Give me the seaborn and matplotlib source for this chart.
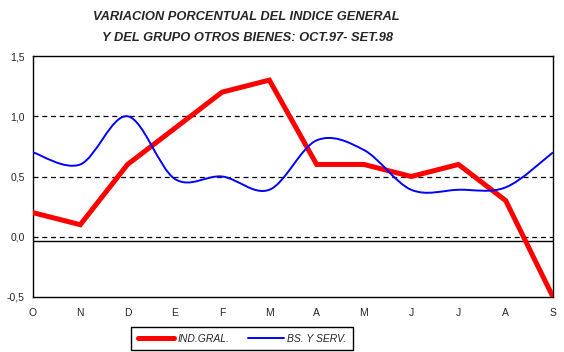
import numpy as np
import pandas as pd
import matplotlib
matplotlib.use("Agg")
import matplotlib.pyplot as plt
from matplotlib.path import Path
from matplotlib.patches import PathPatch
from matplotlib.lines import Line2D
import seaborn as sns

meses = ["O", "N", "D", "E", "F", "M", "A", "M", "J", "J", "A", "S"]
ind_gral = [0.2, 0.1, 0.6, 0.9, 1.2, 1.3, 0.6, 0.6, 0.5, 0.6, 0.3, -0.5]
bs_serv = [0.7, 0.6, 1.0, 0.48, 0.5, 0.39, 0.8, 0.72, 0.39, 0.39, 0.41, 0.7]
y_ticks = [-0.5, 0.0, 0.5, 1.0, 1.5]

sns.set_style("white")
plt.rcParams["font.family"] = ["Liberation Sans", "DejaVu Sans"]

df = pd.DataFrame({"x": np.arange(len(meses)), "ind": ind_gral, "bs": bs_serv})

fig = plt.figure(figsize=(5.64, 3.52), dpi=100)
ax = fig.add_axes([33 / 564, 1 - 297 / 352, 520 / 564, 241 / 352])

# dashed grid lines
for v in [0.0, 0.5, 1.0]:
    ax.axhline(v, color="black", lw=0.9, ls=(0, (4, 3)), zorder=1)
# solid axis line that crosses slightly below zero
ax.axhline(-0.035, color="black", lw=1.0, zorder=1)

sns.lineplot(data=df, x="x", y="ind", ax=ax, color="#ff0000", lw=3.6,
             solid_joinstyle="miter", zorder=3)


# smoothed curve (Excel-like) using bezier segments
def smooth_path(xs, ys):
    pts = np.column_stack([xs, ys]).astype(float)
    n = len(pts)
    verts = [pts[0]]
    codes = [Path.MOVETO]
    for i in range(n - 1):
        p0 = pts[max(i - 1, 0)]
        p1 = pts[i]
        p2 = pts[i + 1]
        p3 = pts[min(i + 2, n - 1)]
        c1 = p1 + (p2 - p0) / 6
        c2 = p2 - (p3 - p1) / 6
        verts += [c1, c2, p2]
        codes += [Path.CURVE4] * 3
    return Path(verts, codes)


ax.add_patch(PathPatch(smooth_path(df["x"], df["bs"]), fill=False,
                       edgecolor="#0000ff", lw=1.4, zorder=4))

ax.set_xlim(0, len(meses) - 1)
ax.set_ylim(-0.5, 1.5)
ax.set_xticks(df["x"])
ax.set_xticklabels(meses)
ax.set_yticks(y_ticks)
ax.set_yticklabels([f"{v:.1f}".replace(".", ",") for v in y_ticks])
ax.set_xlabel("")
ax.set_ylabel("")
ax.tick_params(axis="x", direction="inout", length=6, width=1, labelsize=7.5, pad=5)
ax.tick_params(axis="y", direction="out", length=4, width=1, labelsize=7.5, pad=2)
for s in ax.spines.values():
    s.set_color("black")
    s.set_linewidth(1.0)

fig.text(246 / 564, 1 - 17 / 352, "VARIACION PORCENTUAL DEL INDICE GENERAL",
         ha="center", va="center", fontsize=9.3, fontweight="bold", style="italic")
fig.text(248 / 564, 1 - 38 / 352, "Y DEL GRUPO OTROS BIENES: OCT.97- SET.98",
         ha="center", va="center", fontsize=9.3, fontweight="bold", style="italic")

handles = [Line2D([], [], color="#ff0000", lw=3.6),
           Line2D([], [], color="#0000ff", lw=1.4)]
leg = fig.legend(handles, ["IND.GRAL.", "BS. Y SERV."], loc="center",
                 bbox_to_anchor=(242 / 564, 1 - 338.5 / 352), ncol=2,
                 frameon=True, fancybox=False, shadow=False, edgecolor="black",
                 prop={"size": 7.5, "style": "italic"}, handlelength=3.5,
                 columnspacing=1.8, borderpad=0.6, handletextpad=0.3)
leg.get_frame().set_linewidth(1.0)
leg.get_frame().set_alpha(1)

fig.savefig("out.png", dpi=100)
